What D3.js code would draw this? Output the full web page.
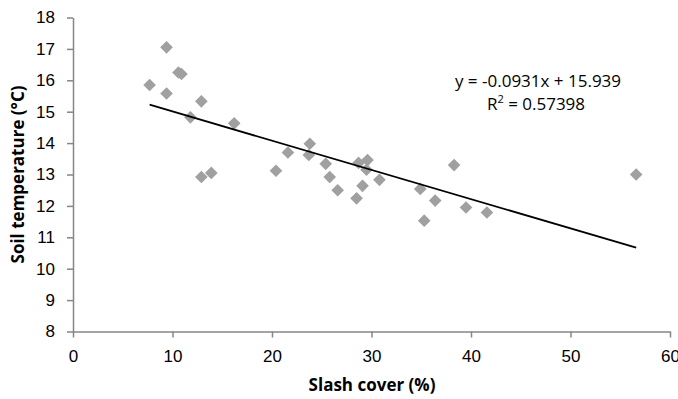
<!DOCTYPE html>
<html>
<head>
<meta charset="utf-8">
<script src="https://cdn.jsdelivr.net/npm/d3@7"></script>
<style>
  body { margin: 0; background: #fff; }
  svg { display: block; font-family: "Open Sans", "Noto Sans", sans-serif; }
  .axis path, .axis line { stroke: #868686; stroke-width: 1.5; }
  .axis text { font-size: 17px; fill: #000; }
</style>
</head>
<body>
<svg id="chart" width="678" height="399"></svg>
<script>
// slash cover (%) and soil temperature (°C)
const slashCover = [7.7, 9.4, 9.4, 10.6, 10.9, 11.8, 12.9, 12.9, 13.9, 16.2,
  20.4, 21.6, 23.8, 23.7, 25.4, 25.8, 26.6, 28.5, 28.7, 29.1,
  29.6, 29.5, 30.8, 34.9, 35.3, 36.4, 38.3, 39.5, 41.6, 56.6];
const soilTemp = [15.85, 17.05, 15.58, 16.25, 16.2, 14.82, 15.33, 12.92, 13.05, 14.63,
  13.12, 13.7, 13.98, 13.62, 13.34, 12.92, 12.5, 12.24, 13.37, 12.64,
  13.46, 13.15, 12.83, 12.54, 11.53, 12.17, 13.3, 11.95, 11.79, 13.0];
const xTicks = [0, 10, 20, 30, 40, 50, 60];
const yTicks = [8, 9, 10, 11, 12, 13, 14, 15, 16, 17, 18];
const slope = -0.0931, intercept = 15.939;
const eqLabel = 'y = -0.0931x + 15.939';
const r2Value = '0.57398';

const svg = d3.select('#chart');
const x = d3.scaleLinear().domain([0, 60]).range([73, 670]);
const y = d3.scaleLinear().domain([8, 18]).range([331.5, 17.5]);

// axes
svg.append('g')
  .attr('class', 'axis')
  .attr('transform', `translate(0,${y(8)})`)
  .call(d3.axisBottom(x).tickValues(xTicks).tickSize(6).tickPadding(9).tickSizeOuter(0))
  .selectAll('text').attr('dy', '0.9em');

svg.append('g')
  .attr('class', 'axis')
  .attr('transform', `translate(${x(0)},0)`)
  .call(d3.axisLeft(y).tickValues(yTicks).tickSize(6).tickPadding(12).tickSizeOuter(0));

// points
svg.append('g').selectAll('path')
  .data(slashCover.map((d, i) => [d, soilTemp[i]]))
  .enter()
  .append('path')
    .attr('d', d3.symbol(d3.symbolSquare, 80))
    .attr('transform', d => `translate(${x(d[0])},${y(d[1])}) rotate(45)`)
    .attr('fill', '#a0a0a0');

// linear trendline over the data range
let xMin = d3.min(slashCover), xMax = d3.max(slashCover);
svg.append('line')
  .attr('x1', x(xMin)).attr('y1', y(slope * xMin + intercept))
  .attr('x2', x(xMax)).attr('y2', y(slope * xMax + intercept))
  .attr('stroke', '#000')
  .attr('stroke-width', 1.8);

// equation
svg.append('text')
  .attr('x', 538).attr('y', 87)
  .attr('text-anchor', 'middle')
  .style('font-size', '17px')
  .text(eqLabel);
let r2 = svg.append('text')
  .attr('x', 536).attr('y', 110)
  .attr('text-anchor', 'middle')
  .style('font-size', '17px');
r2.append('tspan').text('R');
r2.append('tspan').attr('dy', -7).style('font-size', '11px').text('2');
r2.append('tspan').attr('dy', 7).text(' = ' + r2Value);

// axis titles
svg.append('text')
  .attr('x', 372).attr('y', 391)
  .attr('text-anchor', 'middle')
  .style('font-size', '17px').style('font-weight', 'bold')
  .text('Slash cover (%)');

svg.append('text')
  .attr('transform', `translate(24,${y(13)}) rotate(-90)`)
  .attr('text-anchor', 'middle')
  .style('font-size', '17px').style('font-weight', 'bold')
  .text('Soil temperature (°C)');
</script>
</body>
</html>
